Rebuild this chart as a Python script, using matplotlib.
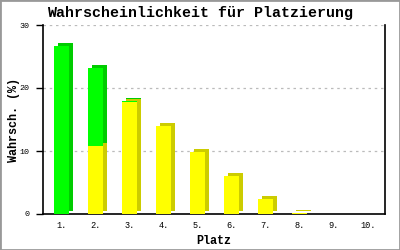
import matplotlib
matplotlib.use("Agg")
from matplotlib import pyplot as plt
from matplotlib import transforms
from matplotlib.patches import Rectangle

places = ["1.", "2.", "3.", "4.", "5.", "6.", "7.", "8.", "9.", "10."]
yellow_vals = [0.0, 10.8, 17.8, 13.9, 9.9, 6.1, 2.4, 0.2, 0.0, 0.0]
green_vals = [26.7, 12.4, 0.1, 0.0, 0.0, 0.0, 0.0, 0.0, 0.0, 0.0]

mono = "Liberation Mono"

fig = plt.figure(figsize=(4, 2.5), dpi=100)
ax = fig.add_axes([0.1075, 0.144, 0.855, 0.756])

x = list(range(len(places)))
w = 0.44
# shadow / 3d offset in pixels
shift = transforms.ScaledTranslation(4 / 100, 3 / 100, fig.dpi_scale_trans)
off = ax.transData + shift

ax.bar(x, yellow_vals, w, color="#cccc00", transform=off, zorder=2)
ax.bar(x, green_vals, w, bottom=yellow_vals, color="#00cc00", transform=off, zorder=2)
ax.bar(x, yellow_vals, w, color="#ffff00", zorder=3)
ax.bar(x, green_vals, w, bottom=yellow_vals, color="#00ff00", zorder=3)

ax.set_xlim(-0.55, 9.5)
ax.set_ylim(0, 30)
ax.set_yticks([0, 10, 20, 30])
for yv in [10, 20, 30]:
    ax.axhline(yv, color="#bbbbbb", lw=0.9, ls=(0, (2, 3)), zorder=1)

ax.set_xticks(x)
ax.set_xticklabels(places, fontfamily=mono, fontsize=6.2)
ax.tick_params(axis="x", length=0, pad=5)
ax.tick_params(axis="y", length=5, width=1, labelsize=6, pad=5)
for t in ax.get_yticklabels():
    t.set_fontfamily(mono)

ax.spines["top"].set_visible(False)
for s in ["left", "right", "bottom"]:
    ax.spines[s].set_linewidth(1.2)

fig.text(0.5, 0.92, "Wahrscheinlichkeit für Platzierung", fontfamily=mono,
         fontweight="bold", fontsize=10.8, ha="center", va="bottom")
ax.set_xlabel("Platz", fontfamily=mono, fontweight="bold", fontsize=8.5, labelpad=4)
ax.set_ylabel("Wahrsch. (%)", fontfamily=mono, fontweight="bold", fontsize=8.5)
ax.yaxis.set_label_coords(-0.068, 0.5)

fig.patches.append(Rectangle((0, 0), 1, 1, transform=fig.transFigure,
                             fill=False, edgecolor="#999999", lw=2))

fig.savefig("out.png", dpi=100)
